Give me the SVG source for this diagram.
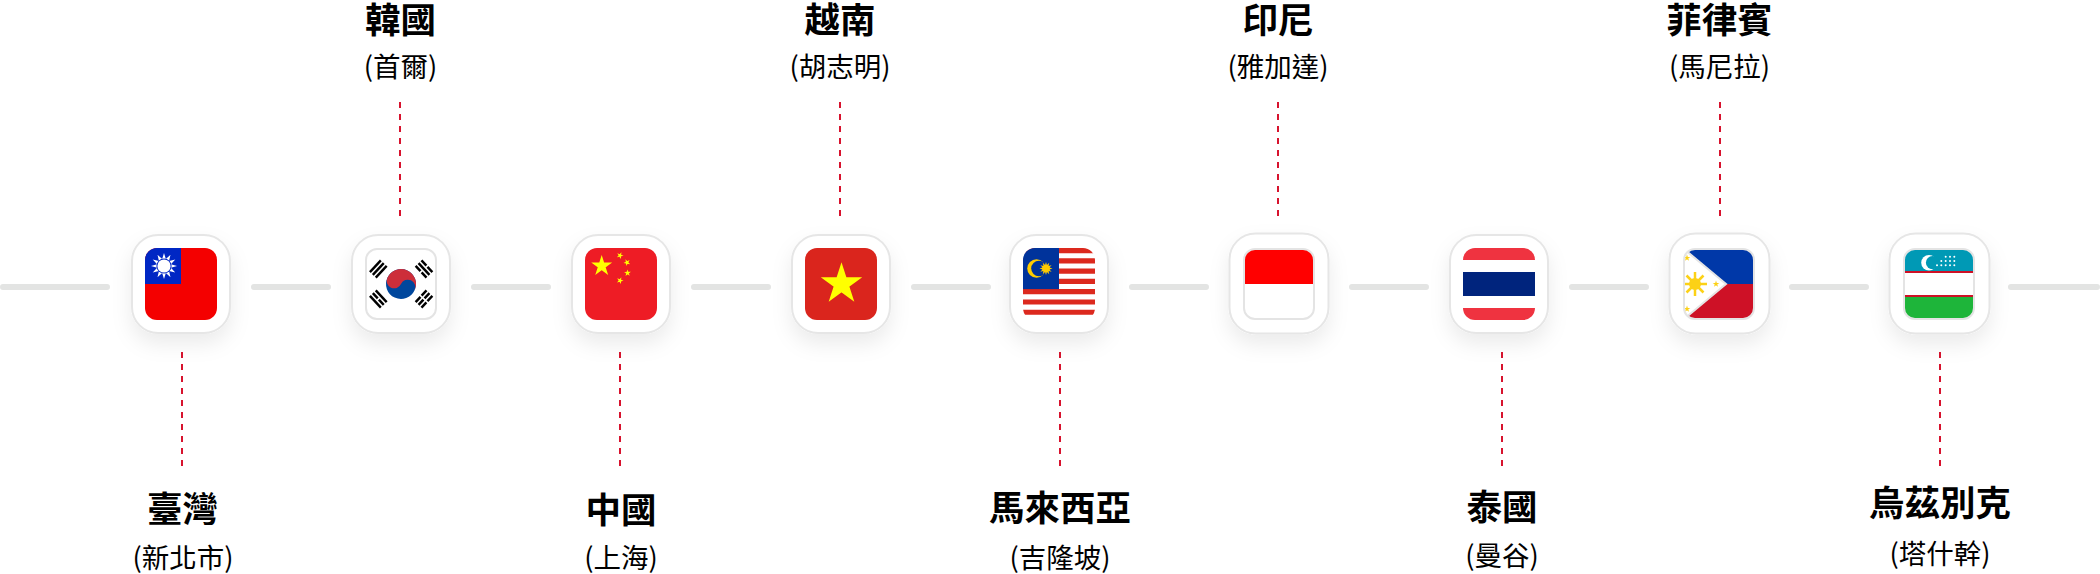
<svg xmlns="http://www.w3.org/2000/svg" width="2100" height="574" viewBox="0 0 2100 574">
<style>
text{font-family:"Noto Sans CJK TC","Noto Sans CJK SC",sans-serif;text-anchor:middle;fill:#000}
.t{font-size:35.500px;font-weight:700}
.s{font-size:27.500px;font-weight:400}
.card{fill:#fff;stroke:#e6e6e6;stroke-width:2;filter:url(#sh)}
.seg{stroke:#e3e4e3;stroke-width:6;stroke-linecap:round;fill:none}
.dash{stroke:#d7132e;stroke-width:2;stroke-dasharray:6 6;fill:none}
.edge{fill:none;stroke:#e4e4e4;stroke-width:2}
</style>
<defs>
<filter id="sh" x="-40%" y="-40%" width="180%" height="190%"><feDropShadow dx="0" dy="10" stdDeviation="10" flood-color="#000" flood-opacity="0.08"/></filter>
<clipPath id="c72"><rect width="72" height="72" rx="12"/></clipPath>
<clipPath id="c70"><rect width="70" height="70" rx="11"/></clipPath>
<path id="star" d="M0,-1L.588,.809L-.951,-.309L.951,-.309L-.588,.809Z"/>
<polygon id="sun" points="1,0 .531,.142 .866,.5 .389,.389 .5,.866 .142,.531 0,1 -.142,.531 -.5,.866 -.389,.389 -.866,.5 -.531,.142 -1,0 -.531,-.142 -.866,-.5 -.389,-.389 -.5,-.866 -.142,-.531 0,-1 .142,-.531 .5,-.866 .389,-.389 .866,-.5 .531,-.142"/>
</defs>
<g id="connectors">
<path class="seg" d="M3,287H107M254,287H328M474,287H548M694,287H768M914,287H988M1132,287H1206M1352,287H1426M1572,287H1646M1792,287H1866M2011,287H2097"/>
<path class="dash" d="M400,102V216M840,102V216M1278,102V216M1720,102V216M182,352V466M620,352V466M1060,352V466M1502,352V466M1940,352V466"/>
</g>
<g id="taiwan"><rect class="card" x="132" y="235" width="98" height="98" rx="26"/>
<g transform="translate(145,248)" clip-path="url(#c72)"><rect width="72" height="72" fill="#f40000"/><rect width="36" height="36" fill="#0027c4"/><use href="#sun" fill="#fff" transform="translate(19,18) scale(13)"/><circle cx="19" cy="18" r="7.600" fill="#0027c4"/><circle cx="19" cy="18" r="6.600" fill="#fff"/></g>
<text class="t" x="182.500" y="522">臺灣</text><text class="s" x="183" y="568">(新北市)</text></g>
<g id="korea"><rect class="card" x="352" y="235" width="98" height="98" rx="26"/>
<g transform="translate(366,249)"><g clip-path="url(#c70)"><rect width="70" height="70" fill="#fff"/>
<g transform="translate(35,35) rotate(25)"><circle r="15" fill="#00479d"/><path d="M-15,0A15,15 0 0 1 15,0A7.500,7.500 0 0 0 0,0A7.500,7.500 0 0 1 -15,0Z" fill="#cd2e3a"/></g>
<g fill="#000">
<g transform="translate(12.300,20) rotate(-47)"><rect x="-8" y="-5.200" width="16" height="2.400"/><rect x="-8" y="-1.200" width="16" height="2.400"/><rect x="-8" y="2.800" width="16" height="2.400"/></g>
<g transform="translate(58,20) rotate(47)"><rect x="-8" y="-5.200" width="7.200" height="2.400"/><rect x=".8" y="-5.200" width="7.200" height="2.400"/><rect x="-8" y="-1.200" width="16" height="2.400"/><rect x="-8" y="2.800" width="7.200" height="2.400"/><rect x=".8" y="2.800" width="7.200" height="2.400"/></g>
<g transform="translate(12.300,50) rotate(47)"><rect x="-8" y="-5.200" width="16" height="2.400"/><rect x="-8" y="-1.200" width="7.200" height="2.400"/><rect x=".8" y="-1.200" width="7.200" height="2.400"/><rect x="-8" y="2.800" width="16" height="2.400"/></g>
<g transform="translate(58,50) rotate(-47)"><rect x="-8" y="-5.200" width="7.200" height="2.400"/><rect x=".8" y="-5.200" width="7.200" height="2.400"/><rect x="-8" y="-1.200" width="7.200" height="2.400"/><rect x=".8" y="-1.200" width="7.200" height="2.400"/><rect x="-8" y="2.800" width="7.200" height="2.400"/><rect x=".8" y="2.800" width="7.200" height="2.400"/></g>
</g></g><rect class="edge" width="70" height="70" rx="11"/></g>
<text class="t" x="400.500" y="33">韓國</text><text class="s" x="400.500" y="76.500">(首爾)</text></g>
<g id="china"><rect class="card" x="572" y="235" width="98" height="98" rx="26"/>
<g transform="translate(585,248)" clip-path="url(#c72)" fill="#ff0"><rect width="72" height="72" fill="#ee1c25"/><use href="#star" transform="translate(16.700,18) scale(11)"/><use href="#star" transform="translate(35,7.500) scale(3.600) rotate(23)"/><use href="#star" transform="translate(42,14.500) scale(3.600) rotate(46)"/><use href="#star" transform="translate(42.500,25) scale(3.600) rotate(70)"/><use href="#star" transform="translate(35,32.500) scale(3.600) rotate(21)"/></g>
<text class="t" x="621" y="523">中國</text><text class="s" x="621" y="568">(上海)</text></g>
<g id="vietnam"><rect class="card" x="792" y="235" width="98" height="98" rx="26"/>
<g transform="translate(805,248)" clip-path="url(#c72)" fill="#ff0"><rect width="72" height="72" fill="#da251d"/><use href="#star" transform="translate(36.500,36) scale(21.800)"/></g>
<text class="t" x="840" y="33">越南</text><text class="s" x="840" y="76.500">(胡志明)</text></g>
<g id="malaysia"><rect class="card" x="1010" y="235" width="98" height="98" rx="26"/>
<g transform="translate(1023,248)" clip-path="url(#c72)"><rect width="72" height="72" fill="#fff"/><path fill="#dc291e" d="M0,0H72V5.140H0ZM0,10.280H72V15.420H0ZM0,20.560H72V25.700H0ZM0,30.840H72V35.980H0ZM0,41.120H72V46.260H0ZM0,51.400H72V56.540H0ZM0,61.680H72V66.820H0Z"/><rect width="36" height="41.100" fill="#00339b"/><circle cx="13.500" cy="20.500" r="9.300" fill="#fc0"/><circle cx="16" cy="20.500" r="7.800" fill="#00339b"/><use href="#sun" fill="#fc0" transform="translate(23,20.500) scale(6.500)"/><circle cx="23" cy="20.500" r="3.600" fill="#fc0"/></g>
<text class="t" x="1060" y="520.500">馬來西亞</text><text class="s" x="1060" y="568">(吉隆坡)</text></g>
<g id="indonesia"><rect class="card" x="1229.500" y="233.500" width="99" height="100" rx="26"/>
<g transform="translate(1244,249)"><g clip-path="url(#c70)"><rect width="70" height="35" fill="#f00"/><rect y="35" width="70" height="35" fill="#fff"/></g><rect class="edge" width="70" height="70" rx="11"/></g>
<text class="t" x="1278" y="33">印尼</text><text class="s" x="1278" y="76.500">(雅加達)</text></g>
<g id="thailand"><rect class="card" x="1450" y="235" width="98" height="98" rx="26"/>
<g transform="translate(1463,248)" clip-path="url(#c72)"><rect width="72" height="72" fill="#ef3340"/><rect y="12" width="72" height="48" fill="#fff"/><rect y="24" width="72" height="24" fill="#00247d"/></g>
<text class="t" x="1502" y="519.500">泰國</text><text class="s" x="1502" y="566">(曼谷)</text></g>
<g id="philippines"><rect class="card" x="1669.500" y="233.500" width="100" height="100" rx="26"/>
<g transform="translate(1684,249)"><g clip-path="url(#c70)"><rect width="70" height="35" fill="#0038a8"/><rect y="35" width="70" height="35" fill="#ce1126"/><path d="M0,0L42,35L0,70Z" fill="#fff" stroke="#e4e4e4" stroke-width="2"/>
<g stroke="#fcd116" stroke-width="2.500" transform="translate(11,35)"><path d="M-12,0H12M0,-12V12M-8.500,-8.500L8.500,8.500M-8.500,8.500L8.500,-8.500"/></g><circle cx="11" cy="35" r="6" fill="#fcd116"/>
<g fill="#fcd116"><use href="#star" transform="translate(3,9) scale(3.500)"/><use href="#star" transform="translate(32,35) scale(3.500)"/><use href="#star" transform="translate(3,60) scale(3.500)"/></g></g><rect class="edge" width="70" height="70" rx="11"/></g>
<text class="t" x="1719.500" y="33">菲律賓</text><text class="s" x="1719.500" y="76.500">(馬尼拉)</text></g>
<g id="uzbekistan"><rect class="card" x="1889.500" y="233.500" width="100" height="100" rx="26"/>
<g transform="translate(1904,249)"><g clip-path="url(#c70)"><rect width="70" height="70" fill="#fff"/><rect width="70" height="23" fill="#0099b5"/><rect y="22" width="70" height="2" fill="#ce1126"/><rect y="46" width="70" height="2" fill="#ce1126"/><rect y="48" width="70" height="22" fill="#1eb53a"/><circle cx="25" cy="13.700" r="7.800" fill="#fff"/><circle cx="28.500" cy="13.700" r="6.600" fill="#0099b5"/>
<g fill="#fff"><circle cx="41.700" cy="7.700" r="1"/><circle cx="46" cy="7.700" r="1"/><circle cx="50.300" cy="7.700" r="1"/><circle cx="37.300" cy="12" r="1"/><circle cx="41.700" cy="12" r="1"/><circle cx="46" cy="12" r="1"/><circle cx="50.300" cy="12" r="1"/><circle cx="33" cy="16.300" r="1"/><circle cx="37.300" cy="16.300" r="1"/><circle cx="41.700" cy="16.300" r="1"/><circle cx="46" cy="16.300" r="1"/><circle cx="50.300" cy="16.300" r="1"/></g></g><rect class="edge" width="70" height="70" rx="11"/></g>
<text class="t" x="1940" y="516">烏茲別克</text><text class="s" x="1940" y="564">(塔什幹)</text></g>
</svg>
